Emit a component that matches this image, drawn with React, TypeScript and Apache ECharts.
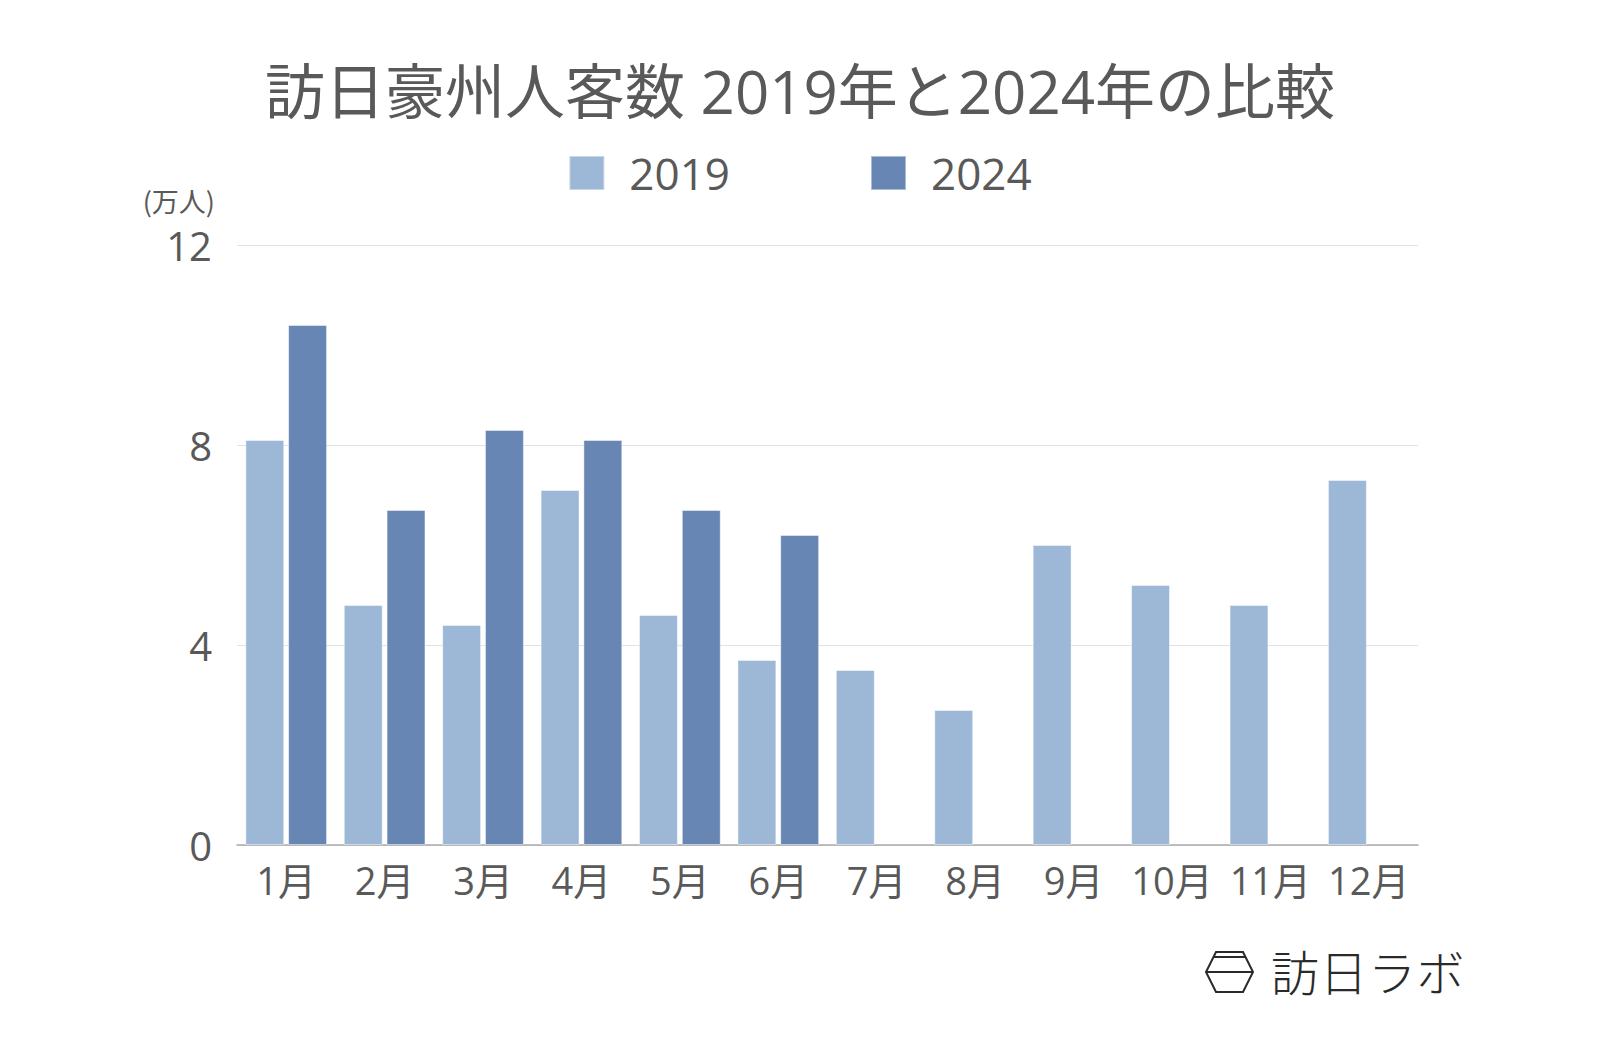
import React, { useEffect, useRef } from "react";
import * as echarts from "echarts";

const months = ["1月", "2月", "3月", "4月", "5月", "6月", "7月", "8月", "9月", "10月", "11月", "12月"];
const values2019 = [8.1, 4.8, 4.4, 7.1, 4.6, 3.7, 3.5, 2.7, 6.0, 5.2, 4.8, 7.3];
const values2024 = [10.4, 6.7, 8.3, 8.1, 6.7, 6.2, null, null, null, null, null, null];
const seriesNames = ["2019", "2024"];
const titleText = "訪日豪州人客数 2019年と2024年の比較";
const unitText = "(万人)";
const logoChars = ["訪", "日", "ラ", "ボ"];

const FONT = '"Open Sans", "Noto Sans CJK JP", sans-serif';
const CJK = '"Noto Sans CJK JP", sans-serif';
const TEXT = "#595959";

export default function App() {
  const ref = useRef<HTMLDivElement>(null);
  useEffect(() => {
    if (!ref.current) return;
    const chart = echarts.init(ref.current, null, { renderer: "svg" });
    const logoGraphics: any[] = logoChars.map((c, i) => ({
      type: "text",
      x: 1295 + i * 48.5,
      y: 970,
      style: {
        text: c,
        fontFamily: CJK,
        fontSize: 48,
        fontWeight: 300,
        fill: "#2a2a2a",
        textAlign: "center",
        textVerticalAlign: "middle",
      },
    }));
    chart.setOption({
      animation: false,
      backgroundColor: "#ffffff",
      textStyle: { fontFamily: FONT },
      color: ["#9db8d6", "#6786b3"],
      legend: {
        data: seriesNames,
        left: "center",
        top: 146,
        itemWidth: 35,
        itemHeight: 34,
        itemGap: 140,
        icon: "rect",
        textStyle: { fontSize: 44, color: TEXT, lineHeight: 42, padding: [0, 0, 0, 20], fontFamily: FONT },
      },
      grid: { left: 237, right: 182, top: 245, bottom: 203, containLabel: false },
      xAxis: {
        type: "category",
        data: months,
        axisLine: { lineStyle: { color: "#aaaaaa", width: 1.5 } },
        axisTick: { show: false },
        axisLabel: { interval: 0, fontSize: 38, lineHeight: 38, color: TEXT, margin: 16, fontFamily: FONT },
      },
      yAxis: {
        type: "value",
        min: 0,
        max: 12,
        interval: 4,
        axisLine: { show: false },
        axisTick: { show: false },
        splitLine: { lineStyle: { color: "#e2e2e2", width: 1 } },
        axisLabel: { fontSize: 40, color: TEXT, margin: 25, fontFamily: FONT },
      },
      series: [
        {
          name: seriesNames[0],
          type: "bar",
          data: values2019,
          barGap: "10%",
          barCategoryGap: "17%",
          itemStyle: { borderColor: "rgba(255,255,255,0.45)", borderWidth: 1 },
        },
        {
          name: seriesNames[1],
          type: "bar",
          data: values2024,
          itemStyle: { borderColor: "rgba(255,255,255,0.45)", borderWidth: 1 },
        },
      ],
      graphic: [
        {
          type: "text",
          x: 800,
          y: 91,
          style: {
            text: titleText,
            fontFamily: FONT,
            fontSize: 60,
            fill: TEXT,
            textAlign: "center",
            textVerticalAlign: "middle",
          },
        },
        {
          type: "text",
          x: 215,
          y: 200,
          style: {
            text: unitText,
            fontFamily: CJK,
            fontSize: 27,
            fill: TEXT,
            textAlign: "right",
            textVerticalAlign: "middle",
          },
        },
        {
          type: "polygon",
          shape: {
            points: [
              [1216, 952],
              [1243, 952],
              [1253, 972],
              [1243, 992],
              [1216, 992],
              [1206, 972],
            ],
          },
          style: { fill: "none", stroke: "#2a2a2a", lineWidth: 2 },
        },
        {
          type: "line",
          shape: { x1: 1213, y1: 957, x2: 1246, y2: 957 },
          style: { stroke: "#2a2a2a", lineWidth: 2 },
        },
        {
          type: "line",
          shape: { x1: 1206, y1: 972, x2: 1253, y2: 972 },
          style: { stroke: "#2a2a2a", lineWidth: 2 },
        },
        ...logoGraphics,
      ],
    });
    return () => chart.dispose();
  }, []);
  return (
    <div
      ref={ref}
      style={{ position: "fixed", left: 0, top: 0, width: 1600, height: 1048, background: "#fff" }}
    />
  );
}
